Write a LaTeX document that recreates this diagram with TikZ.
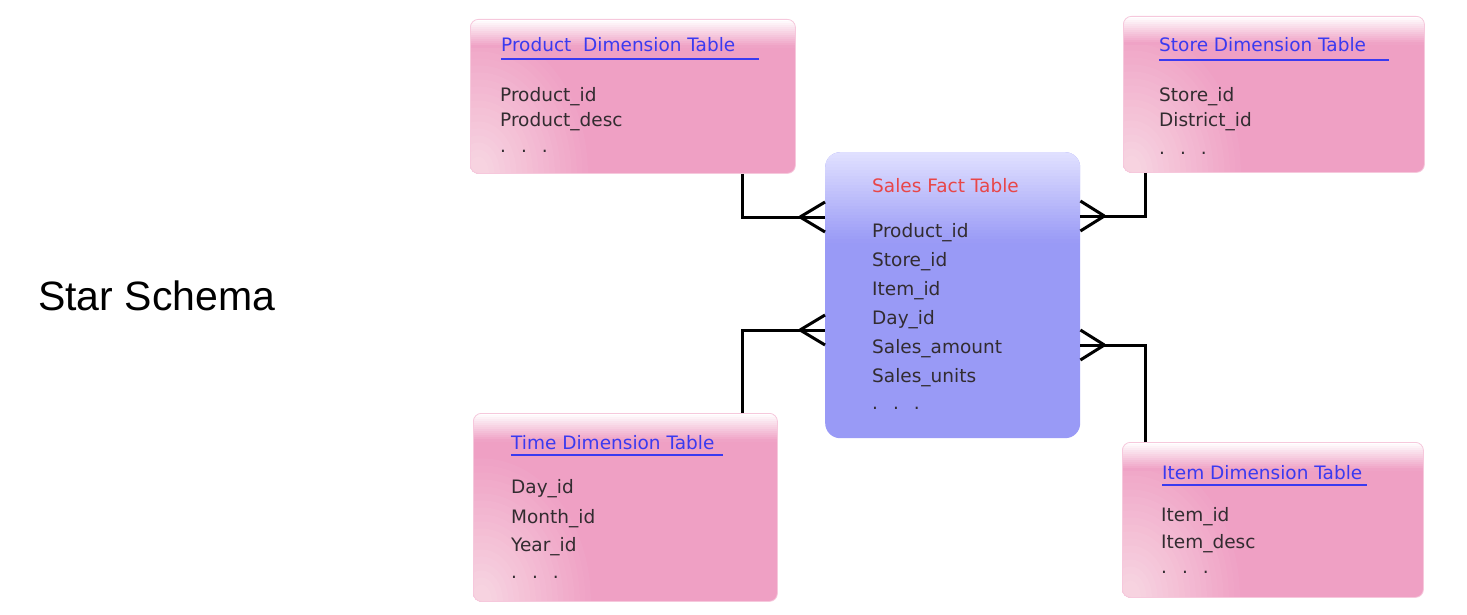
\documentclass[tikz,border=0pt]{standalone}
\usepackage{fontspec}
\newfontfamily\boxfont{DejaVu Sans}
\newfontfamily\labelfont{Liberation Sans}
\definecolor{dimpink}{RGB}{239,160,196}
\definecolor{pinklight}{RGB}{247,214,226}
\definecolor{pinkedge}{RGB}{246,200,220}
\definecolor{factblue}{RGB}{153,154,246}
\definecolor{factlight}{RGB}{224,224,255}
\definecolor{titleblue}{RGB}{58,58,240}
\definecolor{factred}{RGB}{232,70,72}
\definecolor{fieldgray}{RGB}{50,44,48}
\tikzset{
  dimbox/.style={draw=pinkedge, line width=0.8pt, rounded corners=8pt, fill=dimpink, anchor=north west,
    path picture={
      % soft glow in the lower left corner
      \foreach \i [evaluate=\i as \p using int(\i*5)] in {0,...,19}
        \fill[sharp corners, pinklight!\p!dimpink] ([xshift=8pt]path picture bounding box.south west)
          ellipse ({115-5.5*\i} and {150-7*\i});
      % light band along the top
      \foreach \i [evaluate=\i as \p using int(\i*7.5)] in {0,...,13}
        \fill[sharp corners, dimpink!\p!white] ([yshift={-2*\i}]path picture bounding box.north west)
          rectangle ([yshift={-2*\i-2.5}]path picture bounding box.north east);
    }},
  factbox/.style={rounded corners=15pt, fill=factblue, anchor=north west,
    path picture={
      \foreach \i [evaluate=\i as \p using int(\i*3.4)] in {0,...,29}
        \fill[sharp corners, factblue!\p!factlight] ([yshift={-3*\i}]path picture bounding box.north west)
          rectangle ([yshift={-3*\i-3.5}]path picture bounding box.north east);
    }},
  field/.style={font=\boxfont\fontsize{18.5}{22}\selectfont, text=fieldgray, anchor=base west, inner sep=0pt},
  title/.style={field, text=titleblue},
  uline/.style={titleblue, line width=1.2pt},
  link/.style={line width=3pt, line join=miter}
}
\begin{document}
\begin{tikzpicture}[x=1pt,y=1pt]
  \useasboundingbox (0,0) rectangle (1467,-615);

  \node[font=\labelfont\fontsize{41}{48}\selectfont, anchor=base west, inner sep=0pt] (star) at (38,-310) {Star Schema};

  % tables
  \node[dimbox, minimum width=325pt, minimum height=154pt] (prod) at (470,-19) {};
  \node[dimbox, minimum width=301pt, minimum height=156pt] (store) at (1123,-16) {};
  \node[dimbox, minimum width=304pt, minimum height=188pt] (time) at (473,-413) {};
  \node[dimbox, minimum width=301pt, minimum height=155pt] (item) at (1122,-442) {};
  \node[factbox, minimum width=255pt, minimum height=286pt] (fact) at (825,-152) {};

  % product
  \node[title] (ptitle) at (501,-52) {Product\ \ Dimension Table};
  \draw[uline] ([yshift=-7pt]ptitle.base west) -- ++(258,0);
  \node[field] (pid) at (500,-102) {Product\_id};
  \node[field] (pdesc) at (500,-127) {Product\_desc};
  \node[field] (pdots) at (500,-153) {.\hspace{15pt}.\hspace{15pt}.};

  % store
  \node[title] (stitle) at (1159,-52) {Store Dimension Table};
  \draw[uline] ([yshift=-8pt]stitle.base west) -- ++(230,0);
  \node[field] (sid) at (1159,-102) {Store\_id};
  \node[field] (sdist) at (1159,-127) {District\_id};
  \node[field] (sdots) at (1159,-154) {.\hspace{15pt}.\hspace{15pt}.};

  % time
  \node[title] (ttitle) at (511,-449) {Time Dimension Table};
  \draw[uline] ([yshift=-6pt]ttitle.base west) -- ++(212,0);
  \node[field] (tday) at (511,-493) {Day\_id};
  \node[field] (tmonth) at (511,-523) {Month\_id};
  \node[field] (tyear) at (511,-551) {Year\_id};
  \node[field] (tdots) at (511,-578) {.\hspace{15pt}.\hspace{15pt}.};

  % item
  \node[title] (ititle) at (1162,-479) {Item Dimension Table};
  \draw[uline] ([yshift=-6pt]ititle.base west) -- ++(205,0);
  \node[field] (iid) at (1161,-521) {Item\_id};
  \node[field] (idesc) at (1161,-548) {Item\_desc};
  \node[field] (idots) at (1161,-573) {.\hspace{15pt}.\hspace{15pt}.};

  % fact
  \node[field, text=factred] (ftitle) at (872,-192) {Sales Fact Table};
  \node[field] (fprod) at (872,-237) {Product\_id};
  \node[field] (fstore) at (872,-266) {Store\_id};
  \node[field] (fitem) at (872,-295) {Item\_id};
  \node[field] (fday) at (872,-324) {Day\_id};
  \node[field] (famount) at (872,-353) {Sales\_amount};
  \node[field] (funits) at (872,-382) {Sales\_units};
  \node[field] (fdots) at (872,-409) {.\hspace{15pt}.\hspace{15pt}.};

  % connectors
  \coordinate (pbend) at (742,-217);
  \coordinate (sbend) at (1145,-216);
  \coordinate (tbend) at (742,-330);
  \coordinate (ibend) at (1145,-345);

  \draw[link] (prod.south -| pbend) |- (fact.west |- pbend);
  \draw[link] (store.south -| sbend) |- (fact.east |- sbend);
  \draw[link] (time.north -| tbend) |- (fact.west |- tbend);
  \draw[link] (item.north -| ibend) |- (fact.east |- ibend);

  % crow's feet
  \draw[link] (fact.west |- pbend) ++(-25,0) -- ++(25,15) ++(-25,-15) -- ++(25,-15);
  \draw[link] (fact.east |- sbend) ++(24,0) -- ++(-24,15) ++(24,-15) -- ++(-24,-15);
  \draw[link] (fact.west |- tbend) ++(-25,0) -- ++(25,15) ++(-25,-15) -- ++(25,-15);
  \draw[link] (fact.east |- ibend) ++(24,0) -- ++(-24,15) ++(24,-15) -- ++(-24,-15);
\end{tikzpicture}
\end{document}
